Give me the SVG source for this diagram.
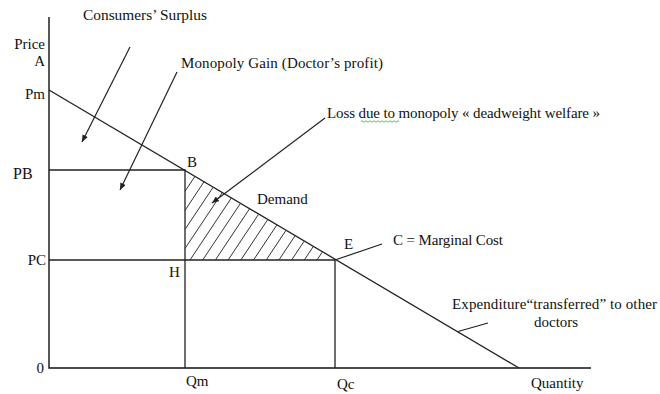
<svg xmlns="http://www.w3.org/2000/svg" width="660" height="394" viewBox="0 0 660 394">
<defs>
<style>
text{font-family:"Liberation Serif","Times New Roman",serif;font-size:15px;fill:#111}
.ax{stroke:#111;stroke-width:1.4;fill:none}
.ln{stroke:#222;stroke-width:1.3;fill:none}
.ht{stroke:#333;stroke-width:1;fill:none}
.ld{stroke:#222;stroke-width:1.2;fill:none}
.ar{stroke:#222;stroke-width:1.2;fill:none;marker-end:url(#ah)}
</style>
<marker id="ah" markerUnits="userSpaceOnUse" markerWidth="8" markerHeight="6" refX="7" refY="3" orient="auto">
<path d="M0,0 L7,3 L0,6 Z" fill="#222"/>
</marker>
</defs>
<rect width="660" height="394" fill="#fff"/>
<g id="axes">
<path class="ax" d="M49,17 V368 H591"/>
</g>
<g id="demand-curve">
<path class="ln" d="M49,90 L519,368"/>
</g>
<g id="guides">
<path class="ln" d="M49,170 H185 V368"/>
<path class="ln" d="M49,260 H335 V368"/>
</g>
<g id="deadweight-hatch">
<path class="ht" d="M185,191.3 L195.1,176.1 M185,210.4 L204.2,181.5 M185,229.4 L213.3,187 M185,248.5 L222.4,192.4 M190,260 L231.4,197.9 M202.7,260 L240.5,203.3 M215.4,260 L249.6,208.7 M228.1,260 L258.6,214.2 M240.8,260 L267.7,219.6 M253.5,260 L276.8,225.1 M266.2,260 L285.9,230.5 M278.9,260 L294.9,236 M291.6,260 L304,241.4 M304.3,260 L313.1,246.8 M317,260 L322.1,252.3"/>
</g>
<g id="connectors">
<path class="ar" d="M130,47 L82,142"/>
<path class="ar" d="M177,72 L120,190"/>
<path class="ar" d="M325,118 L212,203"/>
<path class="ld" d="M335,260 L382,244"/>
<path class="ld" d="M458,331.5 L488,323"/>
</g>
<g id="axis-labels">
<text x="45" y="49" text-anchor="end">Price</text>
<text x="45" y="66" text-anchor="end">A</text>
<text x="45" y="99" text-anchor="end">Pm</text>
<text x="13" y="179" style="font-size:16px">PB</text>
<text x="46" y="265" text-anchor="end">PC</text>
<text x="44" y="373" text-anchor="end">0</text>
<text x="186" y="386">Qm</text>
<text x="337" y="389">Qc</text>
<text x="531" y="388">Quantity</text>
</g>
<g id="point-labels">
<text x="187" y="167">B</text>
<text x="169" y="277">H</text>
<text x="344" y="249">E</text>
<text x="257" y="204">Demand</text>
</g>
<g id="annotations">
<text x="83" y="20" textLength="124" lengthAdjust="spacingAndGlyphs">Consumers’ Surplus</text>
<text x="181" y="68" textLength="202" lengthAdjust="spacing">Monopoly  Gain (Doctor’s profit)</text>
<text x="327" y="118" textLength="273" lengthAdjust="spacing">Loss due to monopoly « deadweight welfare »</text>
<path d="M361,121.5 q1,-1.5 2,0 t2,0 t2,0 t2,0 t2,0 t2,0 t2,0 t2,0 t2,0 t2,0 t2,0 t2,0 t2,0 t2,0 t2,0 t2,0 t2,0 t2,0 t2,0" stroke="#3a3" stroke-width="0.8" fill="none"/>
<text x="393" y="245" textLength="110" lengthAdjust="spacing">C = Marginal Cost</text>
<text x="452" y="309" textLength="205" lengthAdjust="spacing">Expenditure“transferred” to other</text>
<text x="534" y="327">doctors</text>
</g>
</svg>
